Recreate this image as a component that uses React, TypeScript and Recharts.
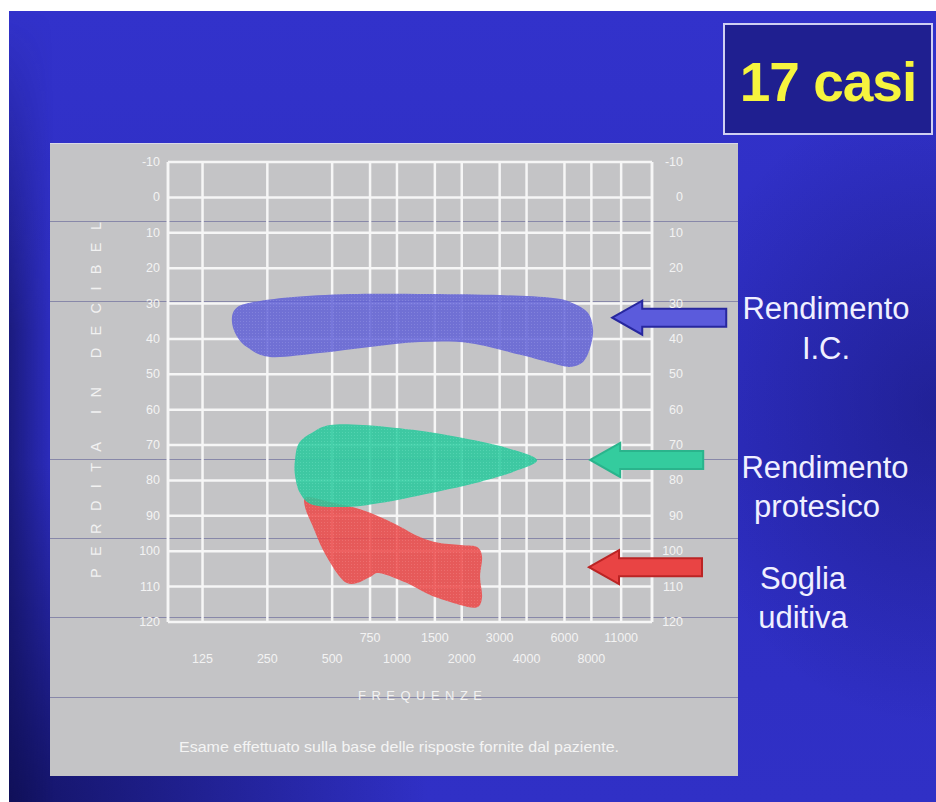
import React from 'react';
import {
  ScatterChart,
  Scatter,
  XAxis,
  YAxis,
  CartesianGrid,
  ReferenceLine,
  ReferenceDot,
  Curve,
} from 'recharts';

const FONT = '"Liberation Sans", Arial, Helvetica, sans-serif';

// Audiogram axes
const freqTicks = [125, 250, 500, 750, 1000, 1500, 2000, 3000, 4000, 6000, 8000, 11000];
const octaveFreqs = [125, 250, 500, 1000, 2000, 4000, 8000];
const dbTicks = [-10, 0, 10, 20, 30, 40, 50, 60, 70, 80, 90, 100, 110, 120];
const freqDomain: [number, number] = [86.4, 15300];
const dbDomain: [number, number] = [-10, 120];

// Outline of the cochlear-implant results (Hz, dB HL), traced clockwise
const implantBand = [
  { f: 171, db: 34.7 }, { f: 179, db: 31.3 }, { f: 215, db: 29.6 }, { f: 319, db: 28.2 },
  { f: 606, db: 27.3 }, { f: 1425, db: 27.3 }, { f: 3013, db: 27.6 }, { f: 5311, db: 28.4 },
  { f: 6578, db: 29.9 }, { f: 7723, db: 32.7 }, { f: 8148, db: 37.5 }, { f: 7890, db: 42.6 },
  { f: 7320, db: 46.5 }, { f: 6370, db: 47.9 }, { f: 5425, db: 47.1 }, { f: 3732, db: 44.5 },
  { f: 2186, db: 41.2 }, { f: 1280, db: 40.9 }, { f: 750, db: 42.3 }, { f: 439, db: 44.0 },
  { f: 257, db: 45.1 }, { f: 201, db: 42.3 }, { f: 179, db: 38.9 },
];

// Outline of the hearing-aid results
const hearingAidBand = [
  { f: 336, db: 74.2 }, { f: 351, db: 69.4 }, { f: 408, db: 66.3 }, { f: 489, db: 64.3 },
  { f: 696, db: 64.3 }, { f: 1188, db: 65.7 }, { f: 2028, db: 68.0 }, { f: 3246, db: 70.8 },
  { f: 4476, db: 74.2 }, { f: 3463, db: 77.6 }, { f: 2433, db: 80.4 }, { f: 1425, db: 83.6 },
  { f: 835, db: 86.4 }, { f: 586, db: 87.5 }, { f: 408, db: 86.9 }, { f: 355, db: 83.6 },
  { f: 336, db: 78.5 },
];

// Outline of the unaided hearing thresholds
const thresholdBand = [
  { f: 382, db: 84.7 }, { f: 489, db: 86.1 }, { f: 696, db: 88.4 }, { f: 959, db: 92.0 },
  { f: 1280, db: 96.0 }, { f: 1586, db: 97.7 }, { f: 2028, db: 98.3 }, { f: 2356, db: 98.8 },
  { f: 2485, db: 101.6 }, { f: 2433, db: 107.3 }, { f: 2485, db: 112.9 }, { f: 2356, db: 115.8 },
  { f: 1964, db: 115.2 }, { f: 1425, db: 112.4 }, { f: 1114, db: 109.0 }, { f: 835, db: 106.2 },
  { f: 750, db: 107.3 }, { f: 653, db: 109.0 }, { f: 586, db: 109.0 }, { f: 527, db: 106.2 },
  { f: 454, db: 99.7 }, { f: 408, db: 93.2 }, { f: 374, db: 87.5 },
];

// Where each pointer arrow touches the audiogram
const arrowTips = [
  { f: 10000, db: 34 },
  { f: 7900, db: 74.2 },
  { f: 7800, db: 104.5 },
];

const legendLines = [
  ['Rendimento', 'I.C.'],
  ['Rendimento', 'protesico'],
  ['Soglia', 'uditiva'],
];

const arrowStyles = [
  { fill: '#5b5bdc', stroke: '#27279e', len: 114 },
  { fill: '#34cc9e', stroke: '#2ab48c', len: 113 },
  { fill: '#e94444', stroke: '#bb2424', len: 113 },
];

// Closed Catmull-Rom spline used to smooth the band outlines
const smoothClosed = (context: any) => {
  let pts: [number, number][] = [];
  return {
    areaStart() {},
    areaEnd() {},
    lineStart() {
      pts = [];
    },
    lineEnd() {
      const n = pts.length;
      if (!n) return;
      context.moveTo(pts[0][0], pts[0][1]);
      for (let i = 0; i < n; i++) {
        const p0 = pts[(i - 1 + n) % n];
        const p1 = pts[i];
        const p2 = pts[(i + 1) % n];
        const p3 = pts[(i + 2) % n];
        context.bezierCurveTo(
          p1[0] + (p2[0] - p0[0]) / 6,
          p1[1] + (p2[1] - p0[1]) / 6,
          p2[0] - (p3[0] - p1[0]) / 6,
          p2[1] - (p3[1] - p1[1]) / 6,
          p2[0],
          p2[1],
        );
      }
      context.closePath();
    },
    point(x: number, y: number) {
      pts.push([+x, +y]);
    },
  };
};

const bandOutline = (fill: string) => (props: any) => (
  <Curve points={props.points} type={smoothClosed as any} fill={fill} fillOpacity={0.86} stroke="none" />
);

const noMarker = () => <g />;

const TICK_FILL = '#f3f3f3';
const TICK_SIZE = 12.5;

const FreqTick = (props: any) => {
  const { x, y, payload } = props;
  const lower = octaveFreqs.includes(payload.value);
  return (
    <text x={x} y={y + (lower ? 41 : 20)} textAnchor="middle" fill={TICK_FILL} fontSize={TICK_SIZE} fontFamily={FONT}>
      {payload.value}
    </text>
  );
};

const LeftDbTick = (props: any) => {
  const { x, y, payload } = props;
  return (
    <text x={x} y={y + 4} textAnchor="end" fill={TICK_FILL} fontSize={TICK_SIZE} fontFamily={FONT}>
      {payload.value}
    </text>
  );
};

const RightDbTick = (props: any) => {
  const { x, y, payload } = props;
  return (
    <text x={x + 31} y={y + 4} textAnchor="end" fill={TICK_FILL} fontSize={TICK_SIZE} fontFamily={FONT}>
      {payload.value}
    </text>
  );
};

const makeArrow = (i: number) => (props: any) => {
  const { cx, cy } = props;
  const s = arrowStyles[i];
  const h = 30;
  const pts = [
    [0, 0], [h, -17], [h, -9], [s.len, -9], [s.len, 9], [h, 9], [h, 17],
  ]
    .map(([dx, dy]) => `${cx + dx},${cy + dy}`)
    .join(' ');
  return <polygon points={pts} fill={s.fill} stroke={s.stroke} strokeWidth={2} strokeLinejoin="miter" />;
};

const SLIDE_BG = [
  'radial-gradient(ellipse 420px 340px at 0% 100%, rgba(10,10,70,0.75) 0%, rgba(10,10,70,0) 100%)',
  'radial-gradient(ellipse 260px 320px at 100% 50%, rgba(18,18,100,0.45) 0%, rgba(18,18,100,0) 100%)',
  'linear-gradient(180deg, #3232cb 0%, #2d2dc0 55%, #3030c6 100%)',
].join(', ');

const panelRules = [221, 301, 459, 538, 617, 697];

export default function App() {
  return (
    <div
      style={{
        position: 'absolute',
        left: 0,
        top: 0,
        width: 936,
        height: 802,
        background: '#ffffff',
        overflow: 'hidden',
        fontFamily: FONT,
      }}
    >
      <div style={{ position: 'absolute', left: 9, top: 11, right: 0, bottom: 0, background: SLIDE_BG }} />
      <div
        style={{
          position: 'absolute',
          left: 9,
          top: 11,
          width: 44,
          bottom: 0,
          background: 'linear-gradient(90deg, rgba(14,14,80,0.6) 0px, rgba(14,14,80,0) 44px)',
          WebkitMaskImage: 'linear-gradient(180deg, rgba(0,0,0,0) 0px, rgba(0,0,0,1) 320px)',
          maskImage: 'linear-gradient(180deg, rgba(0,0,0,0) 0px, rgba(0,0,0,1) 320px)',
        }}
      />
      <div
        style={{
          position: 'absolute',
          left: 50,
          top: 143,
          width: 688,
          height: 633,
          background: '#c4c4c6',
          boxShadow: 'inset 0 1px 0 #d8d8e8',
        }}
      />
      {panelRules.map((y) => (
        <div
          key={y}
          style={{ position: 'absolute', left: 50, top: y, width: 688, height: 1, background: 'rgba(96,96,150,0.6)' }}
        />
      ))}

      <svg width={0} height={0} style={{ position: 'absolute' }}>
        <defs>
          <pattern id="texBlue" width={3} height={3} patternUnits="userSpaceOnUse">
            <rect width={3} height={3} fill="#6262d6" />
            <rect width={1} height={1} fill="#7777e0" />
          </pattern>
          <pattern id="texGreen" width={3} height={3} patternUnits="userSpaceOnUse">
            <rect width={3} height={3} fill="#28c99c" />
            <rect width={1} height={1} fill="#40d6ac" />
          </pattern>
          <pattern id="texRed" width={3} height={3} patternUnits="userSpaceOnUse">
            <rect width={3} height={3} fill="#ec4848" />
            <rect width={1} height={1} fill="#f26060" />
          </pattern>
        </defs>
      </svg>

      <div style={{ position: 'absolute', left: 0, top: 0 }}>
        <ScatterChart width={936} height={802} margin={{ top: 162, right: 224, bottom: 120, left: 108 }}>
          <CartesianGrid stroke="#f6f6f6" strokeWidth={2.5} />
          <XAxis
            type="number"
            dataKey="f"
            scale="log"
            domain={freqDomain}
            allowDataOverflow
            ticks={freqTicks}
            interval={0}
            height={60}
            axisLine={false}
            tickLine={false}
            tickSize={0}
            tickMargin={0}
            tick={<FreqTick />}
          />
          <YAxis
            type="number"
            dataKey="db"
            domain={dbDomain}
            allowDataOverflow
            reversed
            ticks={dbTicks}
            interval={0}
            width={60}
            axisLine={false}
            tickLine={false}
            tickSize={0}
            tickMargin={8}
            tick={<LeftDbTick />}
          />
          <YAxis
            yAxisId="right"
            orientation="right"
            type="number"
            dataKey="db"
            domain={dbDomain}
            allowDataOverflow
            reversed
            ticks={dbTicks}
            interval={0}
            width={60}
            axisLine={false}
            tickLine={false}
            tickSize={0}
            tickMargin={0}
            tick={<RightDbTick />}
          />
          <ReferenceLine x={freqDomain[0]} stroke="#f6f6f6" strokeWidth={2.5} />
          <ReferenceLine x={freqDomain[1]} stroke="#f6f6f6" strokeWidth={2.5} />

          <Scatter
            name="Soglia uditiva"
            data={thresholdBand}
            line={bandOutline('url(#texRed)')}
            shape={noMarker}
            isAnimationActive={false}
          />
          <Scatter
            name="Rendimento protesico"
            data={hearingAidBand}
            line={bandOutline('url(#texGreen)')}
            shape={noMarker}
            isAnimationActive={false}
          />
          <Scatter
            name="Rendimento I.C."
            data={implantBand}
            line={bandOutline('url(#texBlue)')}
            shape={noMarker}
            isAnimationActive={false}
          />

          {arrowTips.map((a, i) => (
            <ReferenceDot key={i} x={a.f} y={a.db} r={1} ifOverflow="visible" shape={makeArrow(i)} />
          ))}
        </ScatterChart>
      </div>

      <svg width={936} height={802} style={{ position: 'absolute', left: 0, top: 0, pointerEvents: 'none' }}>
        {/* axis titles and footnote */}
        <text
          transform="translate(101,400) rotate(-90)"
          textAnchor="middle"
          fill="#f2f2f2"
          fontSize={14.5}
          fontFamily={FONT}
          textLength={356}
          lengthAdjust="spacing"
        >
          PERDITA IN DECIBEL
        </text>
        <text x={420} y={700} textAnchor="middle" fill="#f2f2f2" fontSize={13} fontFamily={FONT} textLength={124} lengthAdjust="spacing">
          FREQUENZE
        </text>
        <text
          x={399}
          y={752}
          textAnchor="middle"
          fill="#f4f4f4"
          fontSize={14}
          fontFamily={FONT}
          textLength={440}
          lengthAdjust="spacingAndGlyphs"
        >
          Esame effettuato sulla base delle risposte fornite dal paziente.
        </text>

        {/* case count box */}
        <rect x={724} y={24} width={208} height={110} fill="#1f1f90" stroke="#cfcff2" strokeWidth={2} />
        <text
          x={828}
          y={101}
          textAnchor="middle"
          fill="#f6f43e"
          fontSize={55}
          fontWeight="bold"
          fontFamily={FONT}
          letterSpacing={-1}
        >
          17 casi
        </text>

        {/* series captions */}
        <text x={826} y={319} textAnchor="middle" fill="#f0f0ff" fontSize={31} fontFamily={FONT}>{legendLines[0][0]}</text>
        <text x={826} y={359} textAnchor="middle" fill="#f0f0ff" fontSize={31} fontFamily={FONT}>{legendLines[0][1]}</text>
        <text x={825} y={478} textAnchor="middle" fill="#f0f0ff" fontSize={31} fontFamily={FONT}>{legendLines[1][0]}</text>
        <text x={817} y={517} textAnchor="middle" fill="#f0f0ff" fontSize={31} fontFamily={FONT}>{legendLines[1][1]}</text>
        <text x={803} y={589} textAnchor="middle" fill="#f0f0ff" fontSize={31} fontFamily={FONT}>{legendLines[2][0]}</text>
        <text x={803} y={628} textAnchor="middle" fill="#f0f0ff" fontSize={31} fontFamily={FONT}>{legendLines[2][1]}</text>
      </svg>
    </div>
  );
}
